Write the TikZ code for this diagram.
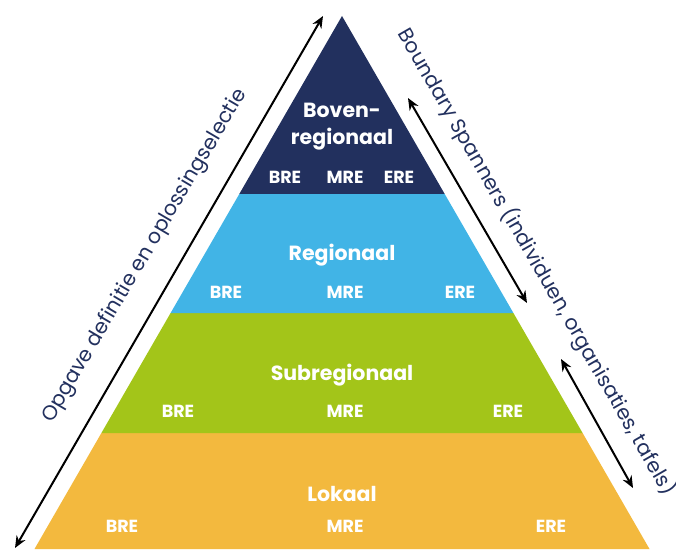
\documentclass[tikz,border=0pt]{standalone}
\usepackage{fontspec}
\setmainfont{Poppins}
\usetikzlibrary{arrows.meta}
\definecolor{navy}{HTML}{22305E}
\definecolor{sky}{HTML}{41B4E6}
\definecolor{lime}{HTML}{A3C519}
\definecolor{gold}{HTML}{F3B93E}
\begin{document}
\begin{tikzpicture}[x=1pt,y=1pt,
  lvl/.style={text=white,font=\fontsize{20.5}{23}\selectfont\bfseries,align=center},
  tag/.style={text=white,font=\fontsize{17.5}{19}\selectfont\bfseries},
  side/.style={text=navy,font=\fontsize{20.5}{23}\selectfont},
  dbl/.style={{Stealth[length=12pt,width=10pt]}-{Stealth[length=12pt,width=10pt]},line width=2pt,black}]
\useasboundingbox (0,0) rectangle (676,549);
% tiers
\fill[gold] (34.5,0) -- (649.5,0) -- (582.6,116) -- (101.4,116) -- cycle;
\fill[lime] (101.4,116) -- (582.6,116) -- (513.4,236) -- (170.6,236) -- cycle;
\fill[sky] (170.6,236) -- (513.4,236) -- (444.7,355) -- (239.3,355) -- cycle;
\fill[navy] (239.3,355) -- (444.7,355) -- (342,533) -- cycle;
% labels
\node[lvl] (boven) at (342,422) {Boven-\\[4pt]regionaal};
\node[tag] (b1) at (285,372) {BRE};
\node[tag] (m1) at (345,372) {MRE};
\node[tag] (e1) at (399,372) {ERE};
\node[lvl] (regio) at (342,294) {Regionaal};
\node[tag] (b2) at (226,257) {BRE};
\node[tag] (m2) at (345,257) {MRE};
\node[tag] (e2) at (460,257) {ERE};
\node[lvl] (sub) at (342,174) {Subregionaal};
\node[tag] (b3) at (178,138) {BRE};
\node[tag] (m3) at (345,138) {MRE};
\node[tag] (e3) at (508,138) {ERE};
\node[lvl] (lok) at (342,55) {Lokaal};
\node[tag] (b4) at (122,23) {BRE};
\node[tag] (m4) at (345,23) {MRE};
\node[tag] (e4) at (551,23) {ERE};
% arrows
\coordinate (la) at (15,1);
\coordinate (lb) at (323,533);
\draw[dbl] (la) -- (lb);
\coordinate (ra) at (408,451);
\coordinate (rb) at (527,246);
\draw[dbl] (ra) -- (rb);
\coordinate (rc) at (561,190);
\coordinate (rd) at (633,61);
\draw[dbl] (rc) -- (rd);
% side texts
\node[side,rotate=59.5] (lt) at (145,293) {Opgave definitie en oplossingselectie};
\node[side,rotate=-60] (rt) at (537,287) {Boundary Spanners (individuen, organisaties, tafels)};
\end{tikzpicture}
\end{document}
